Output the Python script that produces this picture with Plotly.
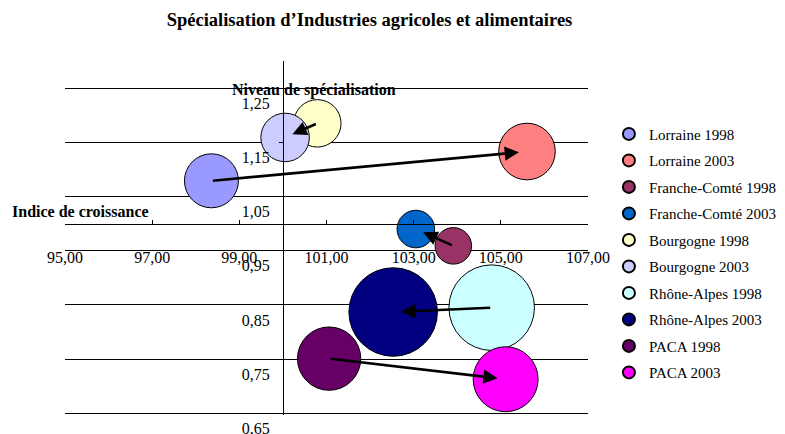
import plotly.graph_objects as go

# Séries : indice de croissance (x), niveau de spécialisation (y), effectifs (taille des bulles)
series = ["Lorraine 1998", "Lorraine 2003",
          "Franche-Comté 1998", "Franche-Comté 2003",
          "Bourgogne 1998", "Bourgogne 2003",
          "Rhône-Alpes 1998", "Rhône-Alpes 2003",
          "PACA 1998", "PACA 2003"]
croissance = [98.36, 105.60, 103.91, 103.05, 100.79, 100.05, 104.79, 102.53, 101.06, 105.11]
specialisation = [1.079, 1.133, 0.959, 0.990, 1.185, 1.159, 0.845, 0.837, 0.751, 0.713]
effectifs = [22.3, 24.5, 10.2, 10.8, 17.2, 18.0, 56.0, 60.0, 30.7, 32.3]

# flèches 1998 -> 2003 (indices dans les listes)
fleches = [(0, 1), (2, 3), (4, 5), (6, 7), (8, 9)]

couleurs = ["#9999FF", "#FF8080", "#993366", "#0066CC", "#FFFFCC",
            "#CCCCFF", "#CCFFFF", "#000080", "#660066", "#FF00FF"]

police = "Liberation Serif"

# la page html ajoute une marge de 8 px autour de la figure
W, H = 777, 426
# un peu sous 0,65 pour que la dernière ligne de grille soit tracée
YMIN = 0.647

fig = go.Figure()
for i, nom in enumerate(series):
    fig.add_trace(go.Scatter(
        x=[croissance[i]], y=[specialisation[i]],
        mode="markers",
        name=nom,
        legendgroup=nom,
        marker=dict(
            size=[effectifs[i]],
            sizemode="area",
            sizeref=0.0153,
            color=couleurs[i],
            opacity=1,
            line=dict(color="black", width=1)
        )
    ))

for a, b in fleches:
    fig.add_annotation(
        x=croissance[b], y=specialisation[b],
        ax=croissance[a], ay=specialisation[a],
        xref="x", yref="y", axref="x", ayref="y",
        showarrow=True, arrowhead=2, arrowsize=1.1,
        arrowwidth=2.6, arrowcolor="black", standoff=8, text=""
    )

# titres des axes
fig.add_annotation(text="<b>Niveau de spécialisation</b>", xref="paper", yref="paper",
                   x=(314 - 65) / 523, y=(414 - 90) / 353.2, showarrow=False,
                   xanchor="center", yanchor="middle",
                   font=dict(family=police, size=16, color="black"))
fig.add_annotation(text="<b>Indice de croissance</b>", xref="paper", yref="paper",
                   x=(80 - 65) / 523, y=(414 - 211) / 353.2, showarrow=False,
                   xanchor="center", yanchor="middle",
                   font=dict(family=police, size=16, color="black"))

fig.update_layout(
    width=W, height=H,
    margin=dict(l=57, r=197, t=53, b=19, autoexpand=False),
    paper_bgcolor="white", plot_bgcolor="white",
    separators=", ",
    font=dict(family=police, size=16, color="black"),
    title=dict(text="<b>Spécialisation d’Industries agricoles et alimentaires</b>",
               x=(369.5 - 8) / W, xanchor="center", xref="container",
               y=1 - 12 / H, yanchor="middle",
               font=dict(family=police, size=18.5, color="black")),
    showlegend=True,
    legend=dict(x=1.04, xanchor="left", y=0.84, yanchor="top",
                font=dict(family=police, size=15, color="black"),
                tracegroupgap=4, itemsizing="constant",
                bgcolor="rgba(0,0,0,0)"),
    xaxis=dict(range=[95, 107], tick0=95, dtick=2, tickformat=".2f",
               anchor="free", position=(1.0 - YMIN) / (1.30 - YMIN),
               showline=True, linecolor="black", linewidth=1,
               ticks="inside", ticklen=4, tickcolor="black",
               ticklabelstandoff=19,
               showgrid=False, zeroline=False),
    yaxis=dict(range=[YMIN, 1.30], tick0=0.65, dtick=0.1, tickformat=".2f",
               anchor="free", position=5 / 12,
               showline=True, linecolor="black", linewidth=1,
               ticks="outside", ticklen=4, tickcolor="black",
               ticklabelshift=15, ticklabelstandoff=6,
               ticklabeloverflow="allow",
               showgrid=True, gridcolor="black", gridwidth=1,
               zeroline=False),
)

fig.write_html("out.html")
